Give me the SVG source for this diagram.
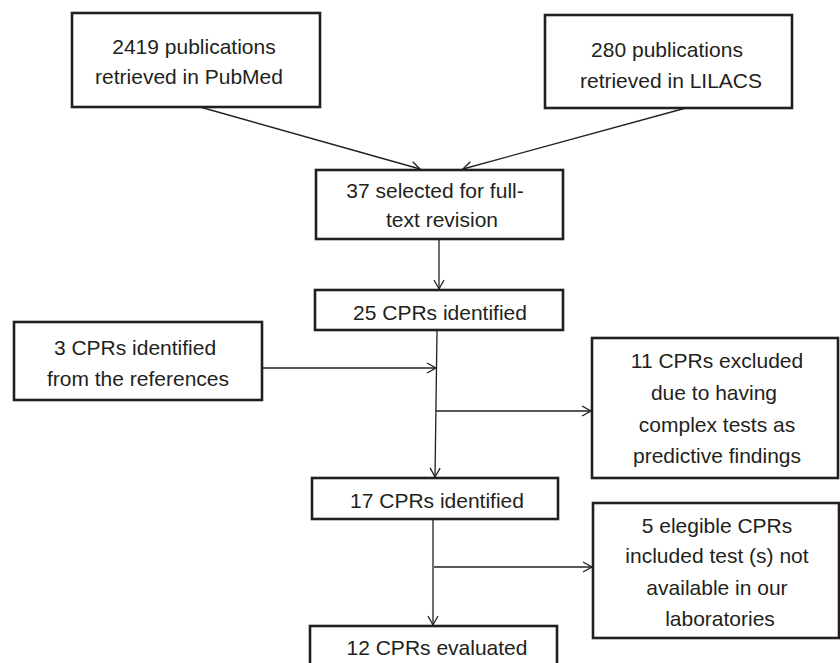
<svg xmlns="http://www.w3.org/2000/svg" width="840" height="663" viewBox="0 0 840 663">
<defs>
<style>
.box{fill:#fff;stroke:#231f20;stroke-width:2.6}
.t{font-family:"Liberation Sans",Arial,sans-serif;font-size:21px;fill:#231f20;text-anchor:middle}
.c{fill:none;stroke:#231f20;stroke-width:1.3}
</style>
<marker id="ah" markerWidth="12" markerHeight="12" refX="10" refY="6" orient="auto" markerUnits="userSpaceOnUse">
<path d="M1,1 L10,6 L1,11" fill="none" stroke="#231f20" stroke-width="1.3"/>
</marker>
</defs>
<rect width="840" height="663" fill="#fff"/>
<g id="connectors">
<line class="c" x1="200" y1="107" x2="420" y2="169" marker-end="url(#ah)"/>
<line class="c" x1="686" y1="108" x2="463" y2="169" marker-end="url(#ah)"/>
<line class="c" x1="439" y1="239" x2="439" y2="289" marker-end="url(#ah)"/>
<line class="c" x1="437" y1="331" x2="435" y2="477" marker-end="url(#ah)"/>
<line class="c" x1="262" y1="368" x2="436" y2="368" marker-end="url(#ah)"/>
<line class="c" x1="436" y1="411" x2="591" y2="411" marker-end="url(#ah)"/>
<line class="c" x1="433" y1="519" x2="433" y2="625" marker-end="url(#ah)"/>
<line class="c" x1="434" y1="567" x2="592" y2="567" marker-end="url(#ah)"/>
</g>
<g id="pubmed">
<rect class="box" x="72" y="13" width="248" height="94"/>
<text class="t" x="194" y="54">2419 publications</text>
<text class="t" x="189" y="84">retrieved in PubMed</text>
</g>
<g id="lilacs">
<rect class="box" x="545" y="15" width="247" height="93"/>
<text class="t" x="667" y="57">280 publications</text>
<text class="t" x="671" y="88">retrieved in LILACS</text>
</g>
<g id="selected37">
<rect class="box" x="316" y="170" width="247" height="69"/>
<text class="t" x="435" y="198">37 selected for full-</text>
<text class="t" x="442" y="227">text revision</text>
</g>
<g id="cpr25">
<rect class="box" x="315" y="290" width="248" height="40"/>
<text class="t" x="440" y="320">25 CPRs identified</text>
</g>
<g id="cpr3">
<rect class="box" x="14" y="322" width="248" height="78"/>
<text class="t" x="135" y="355">3 CPRs identified</text>
<text class="t" x="138" y="386">from the references</text>
</g>
<g id="excluded11">
<rect class="box" x="592" y="338" width="246" height="140"/>
<text class="t" x="717" y="368">11 CPRs excluded</text>
<text class="t" x="714" y="400">due to having</text>
<text class="t" x="717" y="432">complex tests as</text>
<text class="t" x="717" y="463">predictive findings</text>
</g>
<g id="cpr17">
<rect class="box" x="312" y="478" width="246" height="41"/>
<text class="t" x="437" y="508">17 CPRs identified</text>
</g>
<g id="elegible5">
<rect class="box" x="593" y="503" width="246" height="135"/>
<text class="t" x="717" y="533">5 elegible CPRs</text>
<text class="t" x="717" y="563">included test (s) not</text>
<text class="t" x="717" y="595">available in our</text>
<text class="t" x="720" y="626">laboratories</text>
</g>
<g id="evaluated12">
<rect class="box" x="310" y="626" width="247" height="60"/>
<text class="t" x="437" y="655">12 CPRs evaluated</text>
</g>
</svg>
